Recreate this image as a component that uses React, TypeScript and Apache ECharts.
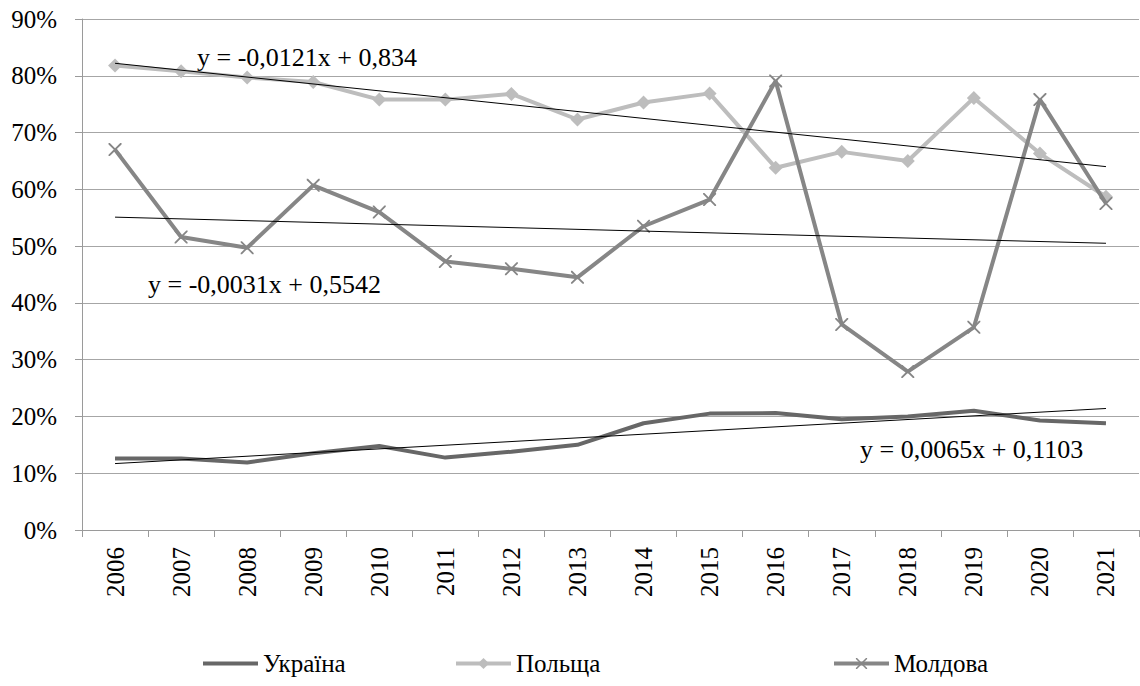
import React, { useEffect, useRef } from "react";
import * as echarts from "echarts";

const years = ["2006", "2007", "2008", "2009", "2010", "2011", "2012", "2013", "2014", "2015", "2016", "2017", "2018", "2019", "2020", "2021"];
const ukraine = [12.6, 12.6, 11.9, 13.5, 14.8, 12.75, 13.8, 15.0, 18.8, 20.5, 20.6, 19.5, 20.0, 21.0, 19.3, 18.8];
const poland = [81.8, 80.8, 79.7, 78.9, 75.8, 75.8, 76.8, 72.3, 75.3, 76.9, 63.8, 66.6, 65.0, 76.1, 66.3, 58.7];
const moldova = [67.0, 51.6, 49.7, 60.7, 56.0, 47.3, 46.0, 44.5, 53.5, 58.2, 79.1, 36.2, 27.9, 35.7, 75.8, 57.5];

// trendline endpoints (first and last year)
const trendPoland = [82.2, 64.0];
const trendMoldova = [55.1, 50.5];
const trendUkraine = [11.7, 21.4];

const eqPoland = "y = -0,0121x + 0,834";
const eqMoldova = "y = -0,0031x + 0,5542";
const eqUkraine = "y = 0,0065x + 0,1103";

const yTicks = { min: 0, max: 90, interval: 10 };

const FONT = "Liberation Serif, Times New Roman, serif";
const FS = 25;
const EQ_FS = 26;

const crossPath =
  "path://M0,0 L1,0 L5,4 L9,0 L10,0 L10,1 L6,5 L10,9 L10,10 L9,10 L5,6 L1,10 L0,10 L0,9 L4,5 L0,1 Z";

export default function App() {
  const ref = useRef<HTMLDivElement>(null);
  useEffect(() => {
    if (!ref.current) return;
    const chart = echarts.init(ref.current, undefined, { renderer: "svg" });
    const first = years[0];
    const last = years[years.length - 1];
    const trend = (name: string, v: number[]) => ({
      name,
      type: "line",
      data: [
        [first, v[0]],
        [last, v[1]],
      ],
      symbol: "none",
      lineStyle: { color: "#000", width: 1 },
      itemStyle: { color: "#000" },
      silent: true,
      z: 5,
    });
    const legendBase = {
      top: 651,
      padding: 0,
      itemWidth: 55,
      itemHeight: 14,
      itemGap: 0,
      lineStyle: { width: 4 },
      textStyle: { fontFamily: FONT, fontSize: FS, color: "#000" },
    };
    chart.setOption({
      animation: false,
      backgroundColor: "#fff",
      textStyle: { fontFamily: FONT },
      grid: { left: 82, right: 1, top: 19, bottom: 156, containLabel: false },
      legend: [
        { ...legendBase, left: 203, data: [{ name: "Україна", icon: "rect" }], itemHeight: 4 },
        { ...legendBase, left: 454, data: ["Польща"] },
        { ...legendBase, left: 832, data: ["Молдова"] },
      ],
      xAxis: {
        type: "category",
        data: years,
        boundaryGap: true,
        axisLine: { lineStyle: { color: "#9a9a9a", width: 1 } },
        axisTick: { show: true, length: 7, lineStyle: { color: "#9a9a9a" } },
        axisLabel: {
          rotate: 90,
          margin: 17,
          color: "#000",
          fontFamily: FONT,
          fontSize: FS,
        },
        splitLine: { show: false },
      },
      yAxis: {
        type: "value",
        min: yTicks.min,
        max: yTicks.max,
        interval: yTicks.interval,
        axisLine: { show: true, lineStyle: { color: "#9a9a9a", width: 1 } },
        axisTick: { show: true, length: 7, lineStyle: { color: "#9a9a9a" } },
        axisLabel: {
          formatter: "{value}%",
          margin: 25,
          color: "#000",
          fontFamily: FONT,
          fontSize: FS,
        },
        splitLine: { show: true, lineStyle: { color: "#a6a6a6", width: 1 } },
      },
      graphic: [
        { type: "text", x: 197, y: 57, style: { text: eqPoland, font: `${EQ_FS}px ${FONT}`, fill: "#000", verticalAlign: "middle" } },
        { type: "text", x: 148, y: 284, style: { text: eqMoldova, font: `${EQ_FS}px ${FONT}`, fill: "#000", verticalAlign: "middle" } },
        { type: "text", x: 860, y: 449, style: { text: eqUkraine, font: `${EQ_FS}px ${FONT}`, fill: "#000", verticalAlign: "middle" } },
      ],
      series: [
        {
          name: "Україна",
          type: "line",
          data: ukraine,
          symbol: "none",
          lineStyle: { color: "#676767", width: 4 },
          itemStyle: { color: "#676767" },
          z: 3,
        },
        {
          name: "Польща",
          type: "line",
          data: poland,
          symbol: "diamond",
          symbolSize: 14,
          lineStyle: { color: "#bdbdbd", width: 4 },
          itemStyle: { color: "#bdbdbd" },
          z: 2,
        },
        {
          name: "Молдова",
          type: "line",
          data: moldova,
          symbol: crossPath,
          symbolSize: 13,
          lineStyle: { color: "#868686", width: 4 },
          itemStyle: { color: "#868686" },
          z: 4,
        },
        trend("trendPoland", trendPoland),
        trend("trendMoldova", trendMoldova),
        trend("trendUkraine", trendUkraine),
      ],
    });
    return () => chart.dispose();
  }, []);
  return (
    <div
      ref={ref}
      style={{ position: "fixed", left: 0, top: 0, width: 1140, height: 686, background: "#fff" }}
    />
  );
}
